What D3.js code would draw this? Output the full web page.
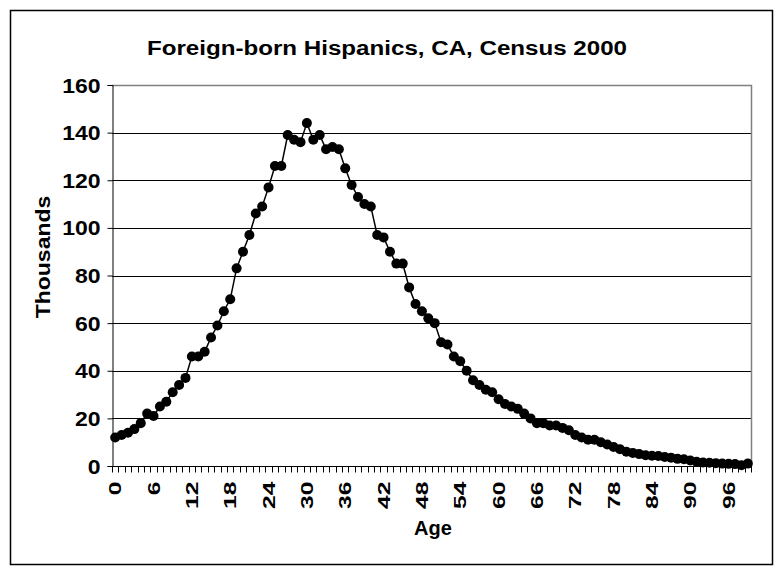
<!DOCTYPE html>
<html><head><meta charset="utf-8">
<script src="https://cdn.jsdelivr.net/npm/d3@7"></script>
<style>body{margin:0;background:#fff}svg{display:block}text{font-family:Arial,"Liberation Sans",sans-serif;font-weight:bold}</style>
</head><body>
<script>
const ages = d3.range(0, 100);
const values = [12,13,14,15.5,18,22,21,25,27,31,34,37,46,46,48,54,59,65,70,83,
90,97,106,109,117,126,126,139,137,136,144,137,139,133,134,133,125,118,113,110,
109,97,96,90,85,85,75,68,65,62,60,52,51,46,44,40,36,34,32,31,
28,26,25,24,22,20,18,18,17,17,16,15,13,12,11,11,10,9,8,7,
6,5.5,5,4.5,4.3,4.2,3.8,3.5,3,2.8,2.3,1.8,1.5,1.4,1.2,1,0.9,0.8,0.3,1];
const yTicks = [0,20,40,60,80,100,120,140,160];
const xLabelEvery = 6;
const title = "Foreign-born Hispanics, CA, Census 2000";

const W=777,H=572;
const svg=d3.select("body").append("svg").attr("width",W).attr("height",H);
svg.append("rect").attr("x",10.5).attr("y",10.5).attr("width",762).attr("height",554).attr("fill","#fff").attr("stroke","#000").attr("stroke-width",1.5);
const L=112,R=751,T=85,B=466;
const x=d3.scaleBand().domain(ages).range([L,R]);
const y=d3.scaleLinear().domain([0,160]).range([B,T]);

// gridlines
svg.append("g").selectAll("line").data(yTicks.slice(1)).join("line")
 .attr("x1",L).attr("x2",R).attr("y1",d=>Math.round(y(d))+0.5).attr("y2",d=>Math.round(y(d))+0.5)
 .attr("stroke","#000").attr("stroke-width",1);
// plot border top/right grey
svg.append("path").attr("d",`M${L},${T+0.5}H${R+0.5}V${B}`).attr("fill","none").attr("stroke","#808080").attr("stroke-width",1.5);

// y axis
const ya=svg.append("g").attr("transform",`translate(${L+0.5},0)`)
 .call(d3.axisLeft(y).tickValues(yTicks).tickSize(5).tickPadding(0));
ya.select(".domain").attr("stroke","#000");
ya.selectAll(".tick text").attr("font-size",20).attr("fill","#000").attr("font-weight","bold")
 .attr("x",null).attr("dy",null).attr("transform","translate(-12,7) scale(1.15,1)");
ya.selectAll(".tick line").attr("stroke","#000");

// x axis
const xa=svg.append("g").attr("transform",`translate(0,${B+0.5})`);
xa.append("line").attr("x1",L).attr("x2",R+1).attr("stroke","#000");
xa.selectAll("line.t").data(d3.range(0,101)).join("line").attr("class","t")
 .attr("x1",i=>Math.round(L+i*x.step())+0.5).attr("x2",i=>Math.round(L+i*x.step())+0.5)
 .attr("y1",0).attr("y2",6).attr("stroke","#000");
xa.selectAll("text").data(ages.filter(a=>a%xLabelEvery===0)).join("text")
 .attr("transform",d=>`translate(${x(d)+x.bandwidth()/2+6},15) rotate(-90) scale(1.45,1)`)
 .attr("text-anchor","end").attr("font-size",17).attr("fill","#000").text(d=>d);

// line & markers
const line=d3.line().x((d,i)=>x(ages[i])+x.bandwidth()/2).y(d=>y(d));
svg.append("path").datum(values).attr("d",line).attr("fill","none").attr("stroke","#000").attr("stroke-width",1.5);
svg.append("g").selectAll("circle").data(values).join("circle")
 .attr("cx",(d,i)=>x(ages[i])+x.bandwidth()/2).attr("cy",d=>y(d)).attr("r",5).attr("fill","#000");

// titles
svg.append("text").attr("transform","translate(387,55) scale(1.15,1)").attr("text-anchor","middle").attr("font-size",21).text(title);
svg.append("text").attr("transform","translate(50,257) rotate(-90) scale(1.15,1)").attr("text-anchor","middle").attr("font-size",20).text("Thousands");
svg.append("text").attr("x",433).attr("y",535).attr("text-anchor","middle").attr("font-size",20).text("Age");
</script>
</body></html>
